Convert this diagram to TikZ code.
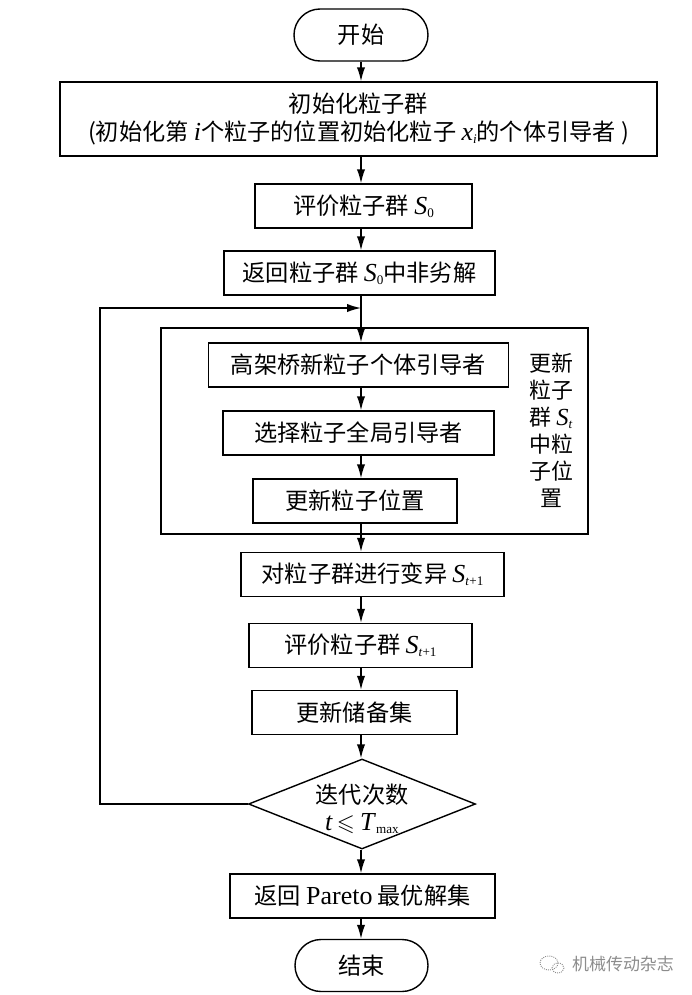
\documentclass[tikz,border=0pt]{standalone}
\usepackage{amssymb}
\usepackage{fontspec}
\setmainfont{Noto Sans CJK SC}
\newfontfamily\lat[Scale=1.12]{Liberation Serif}
\usetikzlibrary{arrows.meta,shapes.geometric,shapes.misc}
\newcommand{\symb}[2]{{\lat\textit{#1}\raisebox{-2.5pt}{\fontsize{10}{10}\selectfont #2}}}
\tikzset{
  flowbox/.style={draw, line width=1.2pt, inner sep=0pt, minimum height=1.32cm, align=center, font=\fontsize{19.8}{26}\selectfont},
  flowend/.style={flowbox, rounded rectangle, minimum height=1.56cm},
  flowarrow/.style={line width=1.2pt, -{Latex[length=0.42cm,width=0.25cm]}},
}
\begin{document}
\begin{tikzpicture}[x=0.03cm,y=-0.03cm]
\useasboundingbox (0,0) rectangle (692,995);

\node[flowend, minimum width=4.02cm] (start) at (361,35) {开始};
\node[flowbox, minimum width=17.91cm, minimum height=2.22cm] (init) at (358.5,119)
  {初始化粒子群\\[-2pt]{\fontsize{19.8}{24}\selectfont (初始化第 {\lat\textit{i}}个粒子的位置初始化粒子 \symb{x}{\textit{i}}的个体引导者 )}};
\node[flowbox, minimum width=6.51cm] (evalz) at (363.5,206) {评价粒子群 \symb{S}{0}};
\node[flowbox, minimum width=8.13cm] (retz) at (359.5,273) {返回粒子群 \symb{S}{0}中非劣解};

\node[draw, line width=1.2pt, inner sep=0pt, minimum width=12.81cm, minimum height=6.18cm] (frame) at (374.5,431) {};
\node[flowbox, minimum width=9cm] (upa) at (358.5,365) {高架桥新粒子个体引导者};
\node[flowbox, minimum width=8.13cm] (upb) at (358.5,433) {选择粒子全局引导者};
\node[flowbox, minimum width=6.12cm] (upc) at (355,501) {更新粒子位置};
\node[align=center, inner sep=0pt, font=\fontsize{18.7}{23}\selectfont] (side) at (551,430)
  {更新\\粒子\\群 \symb{S}{\textit{t}}\\中粒\\子位\\置};

\node[flowbox, minimum width=7.89cm] (mut) at (372.5,574.5) {对粒子群进行变异 \symb{S}{\textit{t}+1}};
\node[flowbox, minimum width=6.69cm] (evalt) at (360.5,645.5) {评价粒子群 \symb{S}{\textit{t}+1}};
\node[flowbox, minimum width=6.15cm] (upd) at (354.5,712.5) {更新储备集};
\node[flowbox, diamond, aspect=2.5, minimum width=6.81cm, minimum height=2.7cm] (iter) at (362,804)
  {\raisebox{-4pt}[\height][\depth]{迭代次数}\\[-3.4pt]\raisebox{-4pt}[\height][\depth]{{\lat\textit{t}}$\,\leqslant$ \symb{T}{max}}};
\node[flowbox, minimum width=7.95cm] (ret) at (362.5,896) {返回 {\lat Pareto} 最优解集};
\node[flowend, minimum width=3.99cm] (stop) at (361.5,965.5) {结束};

\foreach \a/\b in {start/init, init/evalz, evalz/retz, retz/upa, upa/upb, upb/upc, upc/mut, mut/evalt, evalt/upd, upd/iter, iter/ret, ret/stop}
  \draw[flowarrow] (start |- \a.south) -- (start |- \b.north);

\coordinate (looptop) at (100,308);
\draw[flowarrow] (iter.west) -| (looptop) -- (start |- looptop);

\node[text=black!45, inner sep=0pt, font=\fontsize{14.5}{18}\selectfont] (mark) at (623,964) {机械传动杂志};
\draw[black!45, densely dotted, line width=0.8pt] (549,963) ellipse (9 and 7);
\draw[black!45, densely dotted, line width=0.8pt] (558,968) ellipse (6 and 5);
\end{tikzpicture}
\end{document}
